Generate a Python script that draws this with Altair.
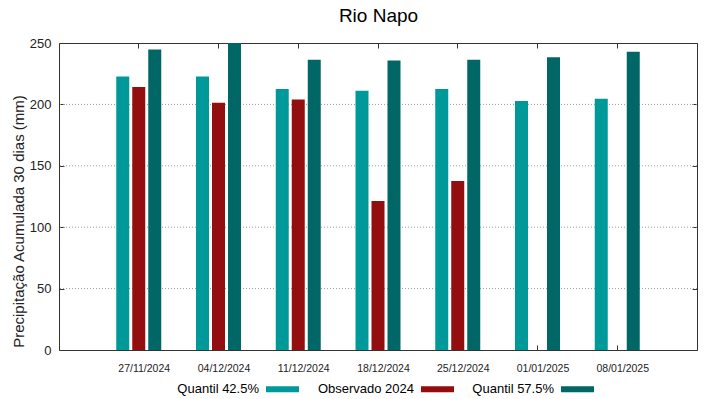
import altair as alt
import pandas as pd

dates = ["27/11/2024", "04/12/2024", "11/12/2024", "18/12/2024",
         "25/12/2024", "01/01/2025", "08/01/2025"]
q425 = [222.8, 222.8, 212.6, 211.2, 212.6, 202.8, 204.7]
obs = [214.2, 201.4, 203.9, 121.4, 137.7, None, None]
q575 = [244.8, 250.0, 236.4, 235.8, 236.4, 238.3, 242.9]
series = ["Quantil 42.5%", "Observado 2024", "Quantil 57.5%"]
colors = ["#009999", "#930e0e", "#006666"]
y_ticks = [0, 50, 100, 150, 200, 250]
grid_vals = [50, 100, 150, 200]
chart_title = "Rio Napo"

rows = []
for i, d in enumerate(dates):
    for s, vals in zip(series, [q425, obs, q575]):
        v = vals[i]
        if v is not None:
            rows.append({"data": d, "serie": s, "valor": v})
df = pd.DataFrame(rows)
gdf = pd.DataFrame({"g": grid_vals})

font = "Liberation Sans"
xs = alt.Scale(domain=dates, paddingInner=0, paddingOuter=0.5)
xo = alt.Scale(domain=series, paddingInner=0.1875, paddingOuter=0, range=[17.375, 62.375])
ys = alt.Scale(domain=[0, 250], nice=False)
cs = alt.Scale(domain=series, range=colors)

grid = alt.Chart(gdf).mark_rule(color="#9a9a9a", strokeDash=[1, 2], strokeWidth=1).encode(
    y=alt.Y("g:Q", scale=ys, axis=None)
)

bars = alt.Chart(df).mark_bar().encode(
    x=alt.X("data:N", scale=xs, sort=dates, title=None,
            axis=alt.Axis(orient="bottom", offset=-5, tickSize=5, labelAngle=0,
                          labelPadding=13, labelOffset=5.5, labelFontSize=10.5,
                          labelFont=font, labelColor="#222", domain=False, grid=False,
                          tickColor="#333", zindex=0)),
    xOffset=alt.XOffset("serie:N", scale=xo, sort=series),
    y=alt.Y("valor:Q", scale=ys, title="Precipitação Acumulada 30 dias (mm)",
            axis=alt.Axis(orient="left", offset=-5, tickSize=5, values=y_ticks,
                          labelPadding=8, labelFontSize=13, labelFont=font,
                          labelColor="#222", domain=False, grid=False,
                          tickColor="#333", titleFontSize=15, titleFont=font,
                          titleFontWeight="normal", titleColor="#222",
                          titleAngle=270, titleAlign="center", titleBaseline="middle",
                          titleX=-46, titleY=178, zindex=0)),
    color=alt.Color("serie:N", scale=cs, sort=series,
                    legend=alt.Legend(orient="none", direction="horizontal",
                                      legendX=207, legendY=329.5, title=None,
                                      symbolType="M-1,-0.18H1V0.18H-1Z", symbolSize=1089,
                                      symbolStrokeWidth=0, symbolOpacity=1,
                                      labelAlign="right", labelOffset={"expr": "-40"},
                                      labelFontSize=13, labelFont=font,
                                      labelColor="black", columnPadding=18,
                                      padding=0, labelLimit=0)),
)

mirror = alt.Chart(df).mark_bar(opacity=0).encode(
    x=alt.X("data:N", scale=xs, sort=dates, title=chart_title,
            axis=alt.Axis(orient="top", offset=-5, tickSize=5, labels=False,
                          domain=False, grid=False, tickColor="#333", zindex=0,
                          titleFontSize=19, titleFont=font, titleFontWeight="normal",
                          titleColor="black", titleX=319, titleY=-27,
                          titleAlign="center", titleBaseline="alphabetic")),
    y=alt.Y("valor:Q", scale=ys, title=None,
            axis=alt.Axis(orient="right", offset=-5, tickSize=5, values=y_ticks,
                          labels=False, domain=False, grid=False,
                          tickColor="#333", zindex=0)),
)

chart = alt.layer(grid, bars, mirror).resolve_axis(
    x="independent", y="independent"
).properties(
    width=638, height=307,
    autosize=alt.AutoSizeParams(type="none"),
    padding={"left": 51, "top": 35, "right": 14, "bottom": 47},
).configure_view(stroke="#333", strokeWidth=1)

chart.save("out.html", embed_options={"renderer": "svg", "actions": False})
